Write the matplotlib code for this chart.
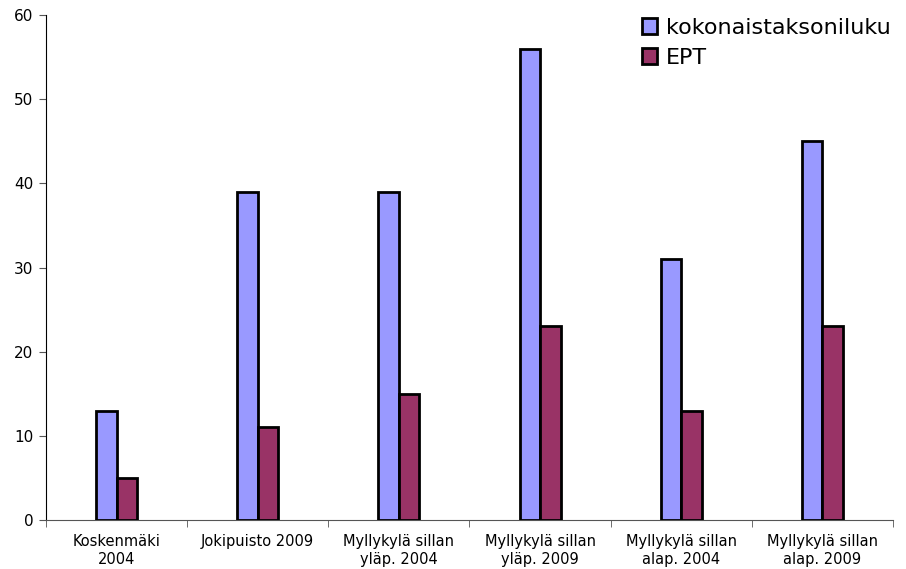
import matplotlib
matplotlib.use("Agg")
import matplotlib.pyplot as plt
import numpy as np

categories = ["Koskenmäki\n2004", "Jokipuisto 2009", "Myllykylä sillan\nyläp. 2004",
              "Myllykylä sillan\nyläp. 2009", "Myllykylä sillan\nalap. 2004", "Myllykylä sillan\nalap. 2009"]
kokonais = [13, 39, 39, 56, 31, 45]
ept = [5, 11, 15, 23, 13, 23]
yticks = [0, 10, 20, 30, 40, 50, 60]

fig = plt.figure(figsize=(9.06, 5.69), dpi=100)
ax = fig.add_axes([46/906, 1-520/569, (893-46)/906, (520-15)/569])

x = np.arange(len(categories))
w = 0.145
ax.bar(x - w/2, kokonais, w, color="#9999FF", edgecolor="black", linewidth=2, label="kokonaistaksoniluku", zorder=3)
ax.bar(x + w/2, ept, w, color="#993366", edgecolor="black", linewidth=2, label="EPT", zorder=3)

ax.set_xlim(-0.5, len(categories) - 0.5)
ax.set_ylim(0, 60)
ax.set_yticks(yticks)
ax.set_yticklabels([str(v) for v in yticks], fontsize=11)
ax.set_xticks(x)
ax.set_xticklabels(categories, fontsize=10.5, linespacing=1.25)
ax.tick_params(axis="x", which="major", length=0, pad=10)
ax.set_xticks(np.arange(-0.5, len(categories), 1.0), minor=True)
ax.tick_params(axis="x", which="minor", length=5, color="#555555", direction="out")
ax.tick_params(axis="y", length=5, color="#555555", direction="out", pad=4)

for s in ["top", "right"]:
    ax.spines[s].set_visible(False)
ax.spines["left"].set_color("black")
ax.spines["bottom"].set_color("#555555")

leg = fig.legend(loc="upper left", bbox_to_anchor=(633/906, 1 - 9/569), frameon=False,
                 fontsize=16, handlelength=0.7, handleheight=0.7, handletextpad=0.4,
                 labelspacing=0.45, borderaxespad=0)

fig.savefig("out.png", dpi=100)
